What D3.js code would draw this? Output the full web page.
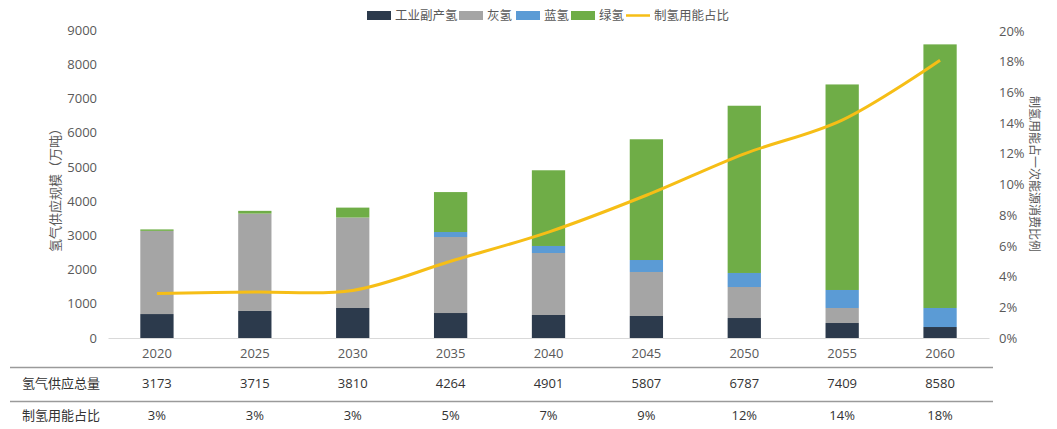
<!DOCTYPE html>
<html>
<head>
<meta charset="utf-8">
<script src="https://cdn.jsdelivr.net/npm/d3@7"></script>
<style>
  html, body { margin: 0; padding: 0; background: #ffffff; }
  svg { display: block; }
  text { font-family: "Noto Sans CJK SC", "Noto Sans", sans-serif; fill: #595959; }
</style>
</head>
<body>
<svg id="chart" width="1057" height="429"></svg>
<script>
// Hydrogen supply by source (10k tonnes) and share of primary energy used for hydrogen production
const years = ["2020", "2025", "2030", "2035", "2040", "2045", "2050", "2055", "2060"];
const byproduct = [700, 790, 877, 730, 672, 643, 584, 438, 321];
const grey      = [2430, 2845, 2643, 2221, 1812, 1286, 906, 439, 0];
const blue      = [0, 0, 0, 146, 205, 350, 410, 526, 556];
const green     = [43, 80, 290, 1167, 2212, 3528, 4887, 6006, 7703];
const energyShare = [0.029, 0.030, 0.031, 0.050, 0.069, 0.093, 0.120, 0.142, 0.181];

const leftTicks = [0, 1000, 2000, 3000, 4000, 5000, 6000, 7000, 8000, 9000];
const rightTicks = [0, 0.02, 0.04, 0.06, 0.08, 0.10, 0.12, 0.14, 0.16, 0.18, 0.20];

const seriesNames = ["工业副产氢", "灰氢", "蓝氢", "绿氢"];
const seriesColors = ["#2c3a4c", "#a5a5a5", "#5b9bd5", "#6fad47"];
const lineName = "制氢用能占比";
const lineColor = "#f6be16";

const rows = years.map((yr, i) => ({
  year: yr,
  "工业副产氢": byproduct[i],
  "灰氢": grey[i],
  "蓝氢": blue[i],
  "绿氢": green[i],
  share: energyShare[i]
}));
rows.forEach(r => { r.total = d3.sum(seriesNames, k => r[k]); });

const svg = d3.select("#chart");
const plotLeft = 108, plotRight = 989, plotTop = 30, plotBottom = 338;

const x = d3.scaleBand().domain(years).range([plotLeft, plotRight]).paddingInner(0.66).paddingOuter(0.33);
const y = d3.scaleLinear().domain([0, 9000]).range([plotBottom, plotTop]);
const y2 = d3.scaleLinear().domain([0, 0.20]).range([plotBottom, plotTop + 1]);
const color = d3.scaleOrdinal().domain(seriesNames).range(seriesColors);

// stacked bars
const stacked = d3.stack().keys(seriesNames)(rows);
svg.append("g").selectAll("g").data(stacked).join("g")
  .attr("fill", d => color(d.key))
  .selectAll("rect").data(d => d).join("rect")
  .attr("x", d => x(d.data.year))
  .attr("width", x.bandwidth())
  .attr("y", d => y(d[1]))
  .attr("height", d => y(d[0]) - y(d[1]));

const numFont = "'Open Sans', 'Noto Sans', sans-serif";

// left axis
const gl = svg.append("g").attr("transform", `translate(${plotLeft - 8},0)`)
  .call(d3.axisLeft(y).tickValues(leftTicks).tickSize(0).tickFormat(d3.format("d")));
gl.select(".domain").remove();
gl.selectAll("text").attr("font-size", 13).attr("fill", "#595959").style("font-family", numFont);

// right axis
const gr = svg.append("g").attr("transform", `translate(${plotRight + 7},0)`)
  .call(d3.axisRight(y2).tickValues(rightTicks).tickSize(0).tickFormat(d3.format(".0%")));
gr.select(".domain").remove();
gr.selectAll("text").attr("font-size", 13).attr("fill", "#595959").style("font-family", numFont);

// bottom axis
const gb = svg.append("g").attr("transform", `translate(0,${plotBottom})`)
  .call(d3.axisBottom(x).tickSize(0).tickSizeOuter(0).tickPadding(11));
gb.select(".domain").attr("stroke", "#d9d9d9").attr("stroke-width", 1);
gb.selectAll("text").attr("font-size", 13).attr("fill", "#595959").style("font-family", numFont);

// share line
const line = d3.line()
  .x(d => x(d.year) + x.bandwidth() / 2)
  .y(d => y2(d.share))
  .curve(d3.curveCatmullRom.alpha(0.5));
svg.append("path").datum(rows)
  .attr("fill", "none")
  .attr("stroke", lineColor)
  .attr("stroke-width", 3)
  .attr("d", line);

// axis titles
svg.append("text")
  .attr("transform", "translate(60,187) rotate(-90)")
  .attr("text-anchor", "middle")
  .attr("font-size", 13)
  .text("氢气供应规模（万吨）");
svg.append("text")
  .attr("transform", "translate(1030,174) rotate(90)")
  .attr("text-anchor", "middle")
  .attr("font-size", 12)
  .text("制氢用能占一次能源消费比例");

// legend
const legendItems = [
  { name: "工业副产氢", x: 367, type: "rect" },
  { name: "灰氢", x: 459, type: "rect" },
  { name: "蓝氢", x: 516, type: "rect" },
  { name: "绿氢", x: 571, type: "rect" },
  { name: lineName, x: 626, type: "line" }
];
const lg = svg.append("g");
legendItems.forEach(it => {
  if (it.type === "rect") {
    lg.append("rect").attr("x", it.x).attr("y", 11).attr("width", 24).attr("height", 9)
      .attr("fill", color(it.name));
  } else {
    lg.append("line").attr("x1", it.x).attr("x2", it.x + 24).attr("y1", 15.5).attr("y2", 15.5)
      .attr("stroke", lineColor).attr("stroke-width", 2.5);
  }
  lg.append("text").attr("x", it.x + 28).attr("y", 20).attr("font-size", 12.5).text(it.name);
});

// data table below the chart
const tbl = svg.append("g");
tbl.append("line").attr("x1", 10).attr("x2", 993).attr("y1", 367.5).attr("y2", 367.5)
  .attr("stroke", "#9a9a9a").attr("stroke-width", 1.5);
tbl.append("line").attr("x1", 10).attr("x2", 993).attr("y1", 401.5).attr("y2", 401.5)
  .attr("stroke", "#9a9a9a").attr("stroke-width", 1.5);
tbl.append("text").attr("x", 22).attr("y", 388).attr("font-size", 13).style("fill", "#333")
  .text("氢气供应总量");
tbl.append("text").attr("x", 22).attr("y", 420).attr("font-size", 13).style("fill", "#333")
  .text(lineName);
tbl.selectAll(".tot").data(rows).join("text").attr("class", "tot")
  .attr("x", d => x(d.year) + x.bandwidth() / 2).attr("y", 388)
  .attr("text-anchor", "middle").attr("font-size", 13).style("fill", "#333")
  .style("font-family", numFont)
  .text(d => d3.format("d")(d.total));
tbl.selectAll(".pct").data(rows).join("text").attr("class", "pct")
  .attr("x", d => x(d.year) + x.bandwidth() / 2).attr("y", 420)
  .attr("text-anchor", "middle").attr("font-size", 13).style("fill", "#333")
  .style("font-family", numFont)
  .text(d => d3.format(".0%")(d.share));
</script>
</body>
</html>
